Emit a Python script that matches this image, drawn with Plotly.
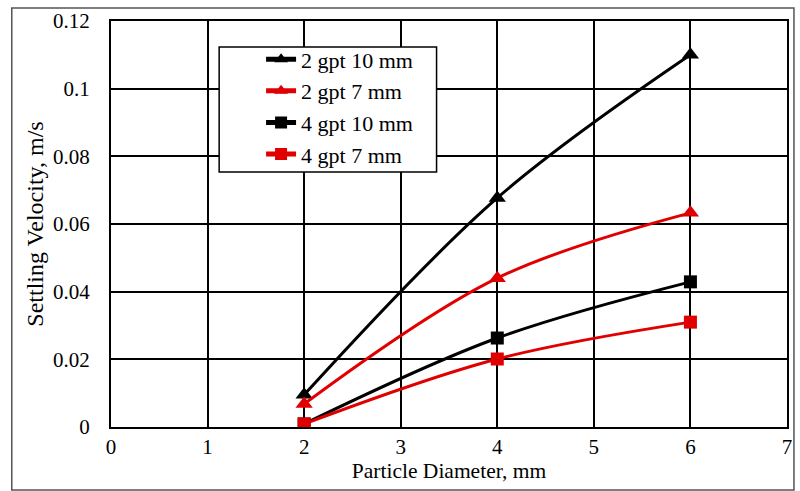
import plotly.graph_objects as go

# Particle diameter (mm) and settling velocity (m/s) for each fluid/tube case
diameter = [2, 4, 6]
v_2gpt_10mm = [0.0095, 0.0677, 0.110]
v_2gpt_7mm = [0.0068, 0.0440, 0.0633]
v_4gpt_10mm = [0.0009, 0.0263, 0.0429]
v_4gpt_7mm = [0.0009, 0.0201, 0.0310]

series_names = ["2 gpt 10 mm", "2 gpt 7 mm", "4 gpt 10 mm", "4 gpt 7 mm"]
series_values = [v_2gpt_10mm, v_2gpt_7mm, v_4gpt_10mm, v_4gpt_7mm]
series_colors = ["#000000", "#e00000", "#000000", "#e00000"]
series_symbols = ["triangle-up", "triangle-up", "square", "square"]
series_sizes = [15, 15, 13, 13]

x_ticks = [0, 1, 2, 3, 4, 5, 6, 7]
y_ticks = [0, 0.02, 0.04, 0.06, 0.08, 0.1, 0.12]
y_tick_text = ["0", "0.02", "0.04", "0.06", "0.08", "0.1", "0.12"]

FONT = "Liberation Serif, Times New Roman, serif"

fig = go.Figure()
for name, vals, col, sym, sz in zip(series_names, series_values, series_colors,
                                    series_symbols, series_sizes):
    fig.add_trace(go.Scatter(
        x=diameter, y=vals, name=name, mode="lines+markers",
        line=dict(color=col, width=3, shape="spline", smoothing=1),
        marker=dict(symbol=sym, size=sz, color=col),
    ))

fig.update_layout(
    width=800, height=491,
    margin=dict(l=111, r=8, t=21, b=64),
    paper_bgcolor="white", plot_bgcolor="white",
    font=dict(family=FONT, size=21, color="black"),
    showlegend=True,
    legend=dict(
        x=0.222, y=0.957, xanchor="left", yanchor="top",
        bgcolor="rgba(0,0,0,0)", borderwidth=0,
        font=dict(family=FONT, size=22, color="black"),
        tracegroupgap=0, itemsizing="constant",
    ),
    xaxis=dict(
        range=[0, 7], tickvals=x_ticks, showgrid=True, gridcolor="black", gridwidth=1.5,
        showline=True, linecolor="black", linewidth=2, mirror=True,
        ticks="", ticklabelstandoff=0, zeroline=False,
        title=dict(text="Particle Diameter, mm", font=dict(family=FONT, size=21.5), standoff=0),
    ),
    yaxis=dict(
        range=[0, 0.12], tickvals=y_ticks, ticktext=y_tick_text,
        showgrid=True, gridcolor="black", gridwidth=1.5,
        showline=True, linecolor="black", linewidth=2, mirror=True,
        ticks="", ticklabelstandoff=15, zeroline=False,
        title=dict(text="Settling Velocity, m/s", font=dict(family=FONT, size=24), standoff=3),
    ),
)

# Legend frame (white box with black border) behind the legend entries
fig.add_shape(type="rect", xref="paper", yref="paper",
              x0=0.160, x1=0.4816, y0=0.628, y1=0.936,
              line=dict(color="black", width=1.5), fillcolor="white", layer="above")

# Outer chart frame around the whole figure area
fig.add_shape(type="rect", xref="paper", yref="paper",
              x0=-0.1468, x1=1.0103, y0=-0.155, y1=1.032,
              line=dict(color="#555555", width=1.5), layer="below")

fig.write_html("out.html")
